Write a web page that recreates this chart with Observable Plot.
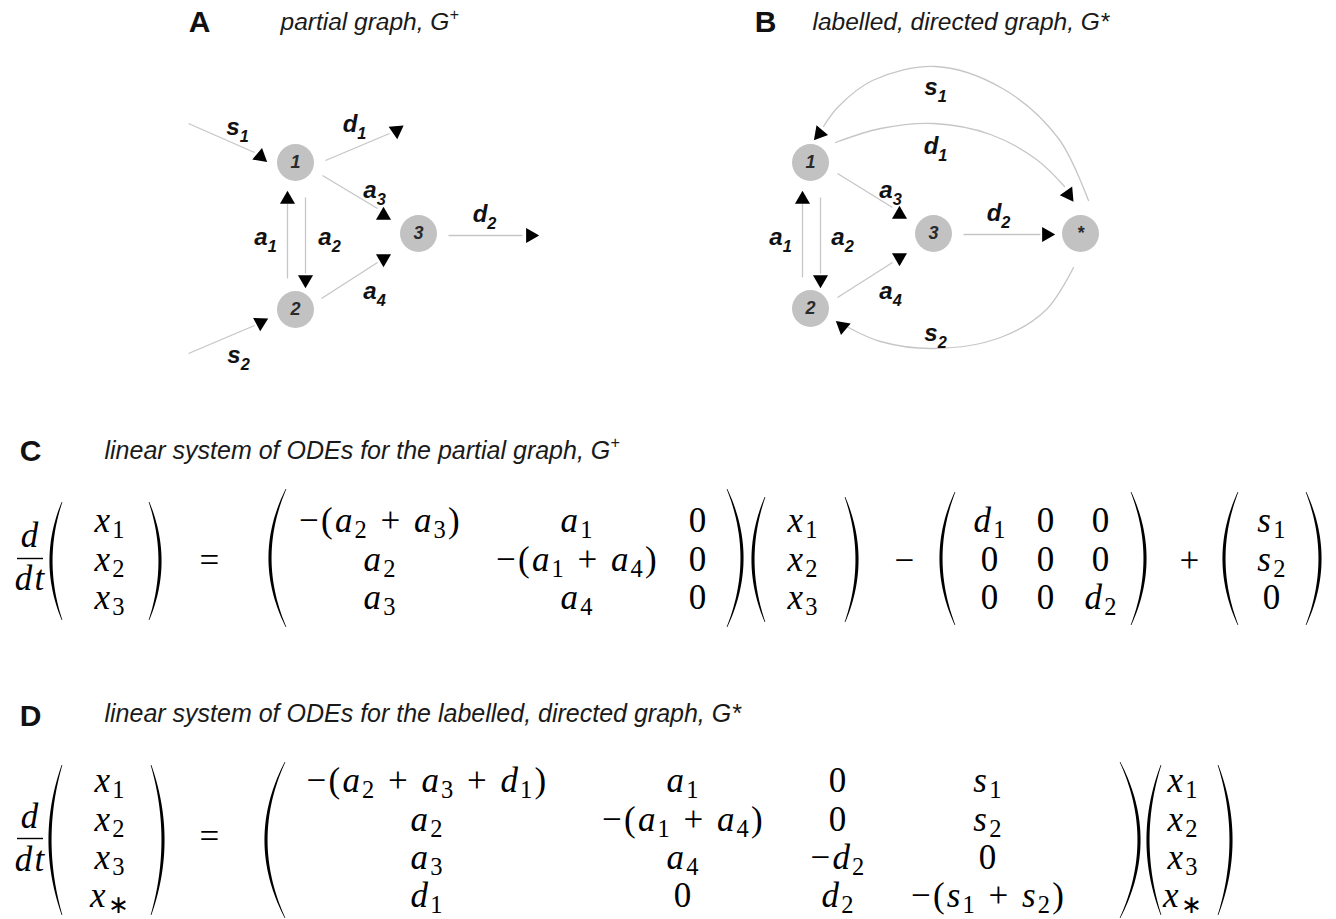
<!DOCTYPE html>
<html><head><meta charset="utf-8">
<script src="https://cdn.jsdelivr.net/npm/d3@7"></script>
<script src="https://cdn.jsdelivr.net/npm/@observablehq/plot@0.6"></script>
<style>html,body{margin:0;padding:0;background:#fff} svg text{white-space:pre}</style>
</head><body><div id="chart"></div>
<script>
// ---------- content (text) ----------
const panelLetters = ["A", "B", "C", "D"];
const panelTitles = [
  "partial graph, G^+",
  "labelled, directed graph, G*",
  "linear system of ODEs for the partial graph, G^+",
  "linear system of ODEs for the labelled, directed graph, G*"
];
const edgeNamesA = ["s_1", "d_1", "a_3", "d_2", "a_1", "a_2", "a_4", "s_2"];
const edgeNamesB = ["s_1", "d_1", "a_3", "d_2", "a_1", "a_2", "a_4", "s_2"];
const nodeIdsA = ["1", "2", "3"];
const nodeIdsB = ["1", "2", "3", "*"];

// system C
const cVec = ["x_1", "x_2", "x_3"];
const cA = [["−(a_2 + a_3)", "a_1", "0"], ["a_2", "−(a_1 + a_4)", "0"], ["a_3", "a_4", "0"]];
const cDiag = [["d_1", "0", "0"], ["0", "0", "0"], ["0", "0", "d_2"]];
const cSrc = ["s_1", "s_2", "0"];
// system D
const dVec = ["x_1", "x_2", "x_3", "x_∗"];
const dA = [
  ["−(a_2 + a_3 + d_1)", "a_1", "0", "s_1"],
  ["a_2", "−(a_1 + a_4)", "0", "s_2"],
  ["a_3", "a_4", "−d_2", "0"],
  ["d_1", "0", "d_2", "−(s_1 + s_2)"]
];

// ---------- layout of the diagram ----------
const W = 1336, H = 919;
const letterPos = [[199, 22], [765, 22], [30, 451], [30, 716]];
const titlePos = [[280, 22], [812, 22], [104, 450], [104, 713]];
const nodePosA = [[295, 162], [295, 309], [418, 233]];
const nodePosB = [[810, 162], [810, 308], [933, 233], [1080, 233]];
const labelPosA = [[237, 127], [354, 124], [374, 190], [484, 214], [265, 237], [329, 237], [374, 291], [238, 355]];
const labelPosB = [[935, 87], [935, 146], [890, 190], [998, 213], [780, 237], [842, 237], [890, 291], [935, 333]];
const segments = [
  // A
  [188, 123, 254, 152], [325, 160, 389, 133], [287, 278, 287, 203], [305, 197, 305, 273],
  [322, 175, 377, 208], [321, 298, 377, 262], [448, 235, 522, 235], [188, 353, 254, 325],
  // B
  [802, 277, 802, 203], [820, 197, 820, 273], [837, 173, 892, 207], [837, 297, 892, 262], [963, 234, 1040, 234]
];
const curves = [
  [[1088, 200], [1058, 138], [1002, 88], [935, 66], [872, 80], [838, 106], [823, 126]],
  [[835, 142], [880, 128], [933, 123], [990, 134], [1036, 159], [1064, 186]],
  [[1073, 267], [1046, 309], [1000, 337], [933, 348], [880, 341], [848, 327]]
];
const heads = [
  // A
  [260, 156, 10], [396, 130, 175], [287, 199, 0], [305, 279, 180], [383, 215, 0], [383, 258, 180], [530, 235, 90], [260, 322, 182],
  // B
  [802, 199, 0], [820, 279, 180], [899, 214, 0], [899, 257, 180], [1046, 234, 90], [819, 133, 100], [1068, 194, 265], [842, 326, 190]
];

// math layout
const cRows = [520, 559, 597], dRows = [780, 819, 857, 895];
const cCols = {vec1: 110, A: [380, 577, 698], vec2: 803, diag: [990, 1046, 1101], src: 1272};
const dCols = {vec1: 110, A: [427, 683, 838, 988], vec2: 1183};
const ops = [["=", 210, 560], ["−", 905, 560], ["+", 1190, 560], ["=", 210, 836]];
const fracs = [{n: "d", d: "dt", x: 30, yn: 535, yd: 578, yb: 558}, {n: "d", d: "dt", x: 30, yn: 816, yd: 859, yb: 838}];
const parens = [
  // C
  {tip: 62, side: -1, top: 502, bottom: 620, bulge: 11}, {tip: 149, side: 1, top: 502, bottom: 620, bulge: 11},
  {tip: 286, side: -1, top: 489, bottom: 627, bulge: 16}, {tip: 727, side: 1, top: 489, bottom: 627, bulge: 15},
  {tip: 765, side: -1, top: 497, bottom: 622, bulge: 12}, {tip: 845, side: 1, top: 497, bottom: 622, bulge: 12},
  {tip: 955, side: -1, top: 492, bottom: 625, bulge: 14}, {tip: 1131, side: 1, top: 492, bottom: 625, bulge: 14},
  {tip: 1238, side: -1, top: 492, bottom: 625, bulge: 14}, {tip: 1306, side: 1, top: 492, bottom: 625, bulge: 14},
  // D
  {tip: 62, side: -1, top: 765, bottom: 915, bulge: 12}, {tip: 151, side: 1, top: 765, bottom: 915, bulge: 12},
  {tip: 285, side: -1, top: 762, bottom: 918, bulge: 19}, {tip: 1120, side: 1, top: 762, bottom: 918, bulge: 19},
  {tip: 1161, side: -1, top: 765, bottom: 915, bulge: 13}, {tip: 1218, side: 1, top: 765, bottom: 915, bulge: 13}
];

// ---------- build mark tables ----------
const nodes = [
  ...nodeIdsA.map((id, i) => ({id, x: nodePosA[i][0], y: nodePosA[i][1]})),
  ...nodeIdsB.map((id, i) => ({id, x: nodePosB[i][0], y: nodePosB[i][1]}))
];
const edgeLabels = [
  ...edgeNamesA.map((t, i) => ({t, x: labelPosA[i][0], y: labelPosA[i][1]})),
  ...edgeNamesB.map((t, i) => ({t, x: labelPosB[i][0], y: labelPosB[i][1]}))
];
const segs = segments.map(([x1, y1, x2, y2]) => ({x1, y1, x2, y2}));
const curvePts = curves.flatMap((c, k) => c.map(([x, y]) => ({id: k, x, y})));
const headPts = heads.map(([x, y, rotate]) => ({x, y, rotate}));
const letters = panelLetters.map((t, i) => ({t, x: letterPos[i][0], y: letterPos[i][1]}));
const titles = panelTitles.map((t, i) => ({t, x: titlePos[i][0], y: titlePos[i][1]}));

const math = [];
cVec.forEach((t, r) => { math.push({t, x: cCols.vec1, y: cRows[r]}); math.push({t, x: cCols.vec2, y: cRows[r]}); });
cA.forEach((row, r) => row.forEach((t, c) => math.push({t, x: cCols.A[c], y: cRows[r]})));
cDiag.forEach((row, r) => row.forEach((t, c) => math.push({t, x: cCols.diag[c], y: cRows[r]})));
cSrc.forEach((t, r) => math.push({t, x: cCols.src, y: cRows[r]}));
dVec.forEach((t, r) => { math.push({t, x: dCols.vec1, y: dRows[r]}); math.push({t, x: dCols.vec2, y: dRows[r]}); });
dA.forEach((row, r) => row.forEach((t, c) => math.push({t, x: dCols.A[c], y: dRows[r]})));
ops.forEach(([t, x, y]) => math.push({t, x, y}));
fracs.forEach(f => { math.push({t: f.n, x: f.x, y: f.yn}); math.push({t: f.d, x: f.x, y: f.yd}); });
const bars = fracs.map(f => ({x1: f.x - 13, x2: f.x + 13, y: f.yb}));

const parenPts = parens.flatMap((p, id) => {
  const pts = [];
  for (let i = 0; i <= 40; i++) {
    const t = -1 + i / 20, k = 1 - t * t;
    const c = p.tip + p.side * p.bulge * k;
    const w = 0.7 + 2.4 * k;
    pts.push({id, y: (p.top + p.bottom) / 2 + t * (p.bottom - p.top) / 2, x1: c - w / 2, x2: c + w / 2});
  }
  return pts;
});

const SANS = "Liberation Sans, Arial, Helvetica, sans-serif";
const SERIF = "Liberation Serif, Times New Roman, serif";
const MATH_F = 35, LABEL_F = 24, TITLE_F = 24.5, TITLE2_F = 25;

const plot = Plot.plot({
  width: W, height: H, margin: 0,
  x: {domain: [0, W], range: [0, W], axis: null},
  y: {domain: [0, H], range: [0, H], axis: null},
  style: {background: "#fff"},
  marks: [
    Plot.link(segs, {x1: "x1", y1: "y1", x2: "x2", y2: "y2", stroke: "#c6c6c6", strokeWidth: 1.3}),
    Plot.line(curvePts, {x: "x", y: "y", z: "id", curve: "catmull-rom", stroke: "#c6c6c6", strokeWidth: 1.3}),
    Plot.dot(headPts, {x: "x", y: "y", rotate: "rotate", symbol: "triangle", r: 5.6, fill: "#000", stroke: null}),
    Plot.dot(nodes, {x: "x", y: "y", r: 18.5, fill: "#c2c2c2", stroke: null}),
    Plot.text(nodes, {x: "x", y: "y", text: "id", fontSize: 18, fontWeight: "bold", fontStyle: "italic", fill: "#2a2a2a", fontFamily: SANS}),
    Plot.text(edgeLabels, {x: "x", y: "y", text: "t", fontSize: LABEL_F, fontWeight: "bold", fontStyle: "italic", fill: "#111", fontFamily: SANS}),
    Plot.text(letters, {x: "x", y: "y", text: "t", fontSize: 30, fontWeight: "bold", fill: "#111", fontFamily: SANS}),
    Plot.text(titles.slice(0, 2), {x: "x", y: "y", text: "t", textAnchor: "start", fontSize: TITLE_F, fontStyle: "italic", fill: "#1a1a1a", fontFamily: SANS}),
    Plot.text(titles.slice(2), {x: "x", y: "y", text: "t", textAnchor: "start", fontSize: TITLE2_F, fontStyle: "italic", fill: "#1a1a1a", fontFamily: SANS}),
    Plot.ruleY(bars, {y: "y", x1: "x1", x2: "x2", stroke: "#000", strokeWidth: 1.4}),
    Plot.areaX(parenPts, {y: "y", x1: "x1", x2: "x2", z: "id", fill: "#000"}),
    Plot.text(math, {x: "x", y: "y", text: "t", fontSize: MATH_F, fill: "#000", fontFamily: SERIF})
  ]
});

// ---------- typesetting of sub/superscripts as real text ----------
const NS = "http://www.w3.org/2000/svg";
function typeset(t, F, isMath, subShift, subSize) {
  const s = t.textContent;
  const toks = [];
  for (let i = 0; i < s.length; i++) {
    const c = s[i];
    if ((c === "_" || c === "^") && i + 1 < s.length) { toks.push({c: s[i + 1], lvl: c === "_" ? 1 : -1}); i++; }
    else toks.push({c, lvl: 0});
  }
  const groups = [];
  for (const k of toks) {
    const it = isMath && /[A-Za-z]/.test(k.c);
    const last = groups[groups.length - 1];
    if (last && last.lvl === k.lvl && last.it === it) last.s += k.c;
    else groups.push({s: k.c, lvl: k.lvl, it});
  }
  if (!isMath && groups.every(g => g.lvl === 0)) return;
  while (t.firstChild) t.removeChild(t.firstChild);
  if (isMath) { t.setAttribute("letter-spacing", "2.2"); t.setAttribute("word-spacing", "0.5"); }
  let cur = 0;
  for (const g of groups) {
    const sp = document.createElementNS(NS, "tspan");
    const target = g.lvl === 1 ? F * subShift : g.lvl === -1 ? -F * 0.42 : 0;
    if (target !== cur) { sp.setAttribute("dy", (target - cur).toFixed(2)); cur = target; }
    if (g.lvl !== 0) sp.setAttribute("font-size", (F * subSize).toFixed(2));
    if (isMath) sp.setAttribute("font-style", g.it ? "italic" : "normal");
    sp.textContent = g.s;
    t.appendChild(sp);
  }
}
document.getElementById("chart").appendChild(plot);
plot.querySelectorAll("text").forEach(t => {
  let g = t.parentNode;
  while (g && g.tagName && g.tagName.toLowerCase() !== "svg" && !g.getAttribute("font-size")) g = g.parentNode;
  const fs = g && g.getAttribute ? parseFloat(g.getAttribute("font-size")) : NaN;
  const s = t.textContent;
  if (fs === MATH_F) typeset(t, MATH_F, true, 0.17, 0.7);
  else if (fs === LABEL_F && /[_^]/.test(s)) typeset(t, LABEL_F, false, 0.28, 0.68);
  else if ((fs === TITLE_F || fs === TITLE2_F) && /[_^]/.test(s)) typeset(t, fs, false, 0.25, 0.65);
});
</script></body></html>
